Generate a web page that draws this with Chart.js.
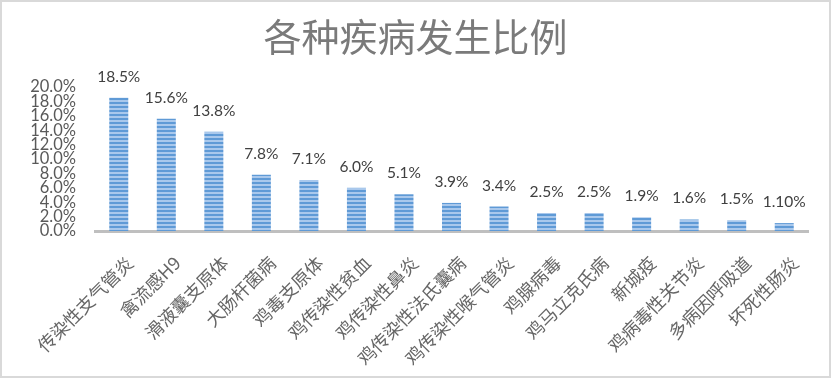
<!DOCTYPE html>
<html>
<head>
<meta charset="utf-8">
<script src="https://cdn.jsdelivr.net/npm/chart.js@4/dist/chart.umd.min.js"></script>
<style>
  html, body { margin: 0; padding: 0; background: #fff; }
  #wrap { position: absolute; left: 0; top: 0; width: 831px; height: 378px; border: 2px solid #d9d9d9; box-sizing: border-box; background: #fff; }
  #c { display: block; }
</style>
</head>
<body>
<div id="wrap"><canvas id="c" width="827" height="374"></canvas></div>
<script>
const titleText = '各种疾病发生比例';
const categories = ['传染性支气管炎', '禽流感H9', '滑液囊支原体', '大肠杆菌病', '鸡毒支原体', '鸡传染性贫血', '鸡传染性鼻炎', '鸡传染性法氏囊病', '鸡传染性喉气管炎', '鸡腺病毒', '鸡马立克氏病', '新城疫', '鸡病毒性关节炎', '多病因呼吸道', '坏死性肠炎'];
const values = [18.5, 15.6, 13.8, 7.8, 7.1, 6.0, 5.1, 3.9, 3.4, 2.5, 2.5, 1.9, 1.6, 1.5, 1.1];
const valueLabels = ['18.5%', '15.6%', '13.8%', '7.8%', '7.1%', '6.0%', '5.1%', '3.9%', '3.4%', '2.5%', '2.5%', '1.9%', '1.6%', '1.5%', '1.10%'];
const yTicks = [0, 2, 4, 6, 8, 10, 12, 14, 16, 18, 20];

function makePattern() {
  const p = document.createElement('canvas');
  p.width = 4; p.height = 4;
  const g = p.getContext('2d');
  g.fillStyle = '#a9c8ec';
  g.fillRect(0, 0, 4, 4);
  g.fillStyle = '#5f9ad6';
  g.fillRect(0, 0, 4, 2);
  return document.getElementById('c').getContext('2d').createPattern(p, 'repeat');
}

const valueLabelPlugin = {
  id: 'valueLabels',
  afterDatasetsDraw(chart) {
    const ctx = chart.ctx;
    const meta = chart.getDatasetMeta(0);
    ctx.save();
    ctx.font = '15.5px Lato, "Noto Sans", sans-serif';
    ctx.fillStyle = '#404040';
    ctx.textAlign = 'center';
    ctx.textBaseline = 'alphabetic';
    meta.data.forEach((bar, i) => {
      ctx.fillText(valueLabels[i], bar.x, bar.y - 16);
    });
    ctx.restore();
  }
};

const chart = new Chart(document.getElementById('c'), {
  type: 'bar',
  data: {
    labels: categories,
    datasets: [{
      data: values,
      backgroundColor: makePattern(),
      borderWidth: 0,
      categoryPercentage: 1,
      barPercentage: 0.4
    }]
  },
  options: {
    responsive: false,
    animation: false,
    layout: { padding: { left: 21, right: 21, top: 0, bottom: 0 } },
    plugins: {
      legend: { display: false },
      tooltip: { enabled: false },
      title: {
        display: true,
        text: titleText,
        color: '#7a7a7a',
        font: { family: '"Noto Sans CJK SC", sans-serif', size: 38, weight: 'normal' },
        padding: { top: 11.5, bottom: 27.9 }
      }
    },
    scales: {
      x: {
        grid: { display: false },
        border: { display: true, color: '#bfbfbf', width: 3 },
        ticks: {
          autoSkip: false,
          minRotation: 45,
          maxRotation: 45,
          padding: 13,
          labelOffset: 11,
          color: '#666666',
          font: { family: '"Noto Sans CJK SC", sans-serif', size: 18 }
        },
        afterFit(s) { s.height = 145; }
      },
      y: {
        min: 0,
        max: 20,
        grid: { display: false },
        border: { display: false },
        afterBuildTicks(s) { s.ticks = yTicks.map(v => ({ value: v })); },
        ticks: {
          autoSkip: false,
          padding: 11,
          color: '#595959',
          font: { family: 'Lato, "Noto Sans", sans-serif', size: 16.5 },
          callback: v => v.toFixed(1) + '%'
        },
        afterFit(s) { s.width = 72; }
      }
    }
  },
  plugins: [valueLabelPlugin]
});
</script>
</body>
</html>
